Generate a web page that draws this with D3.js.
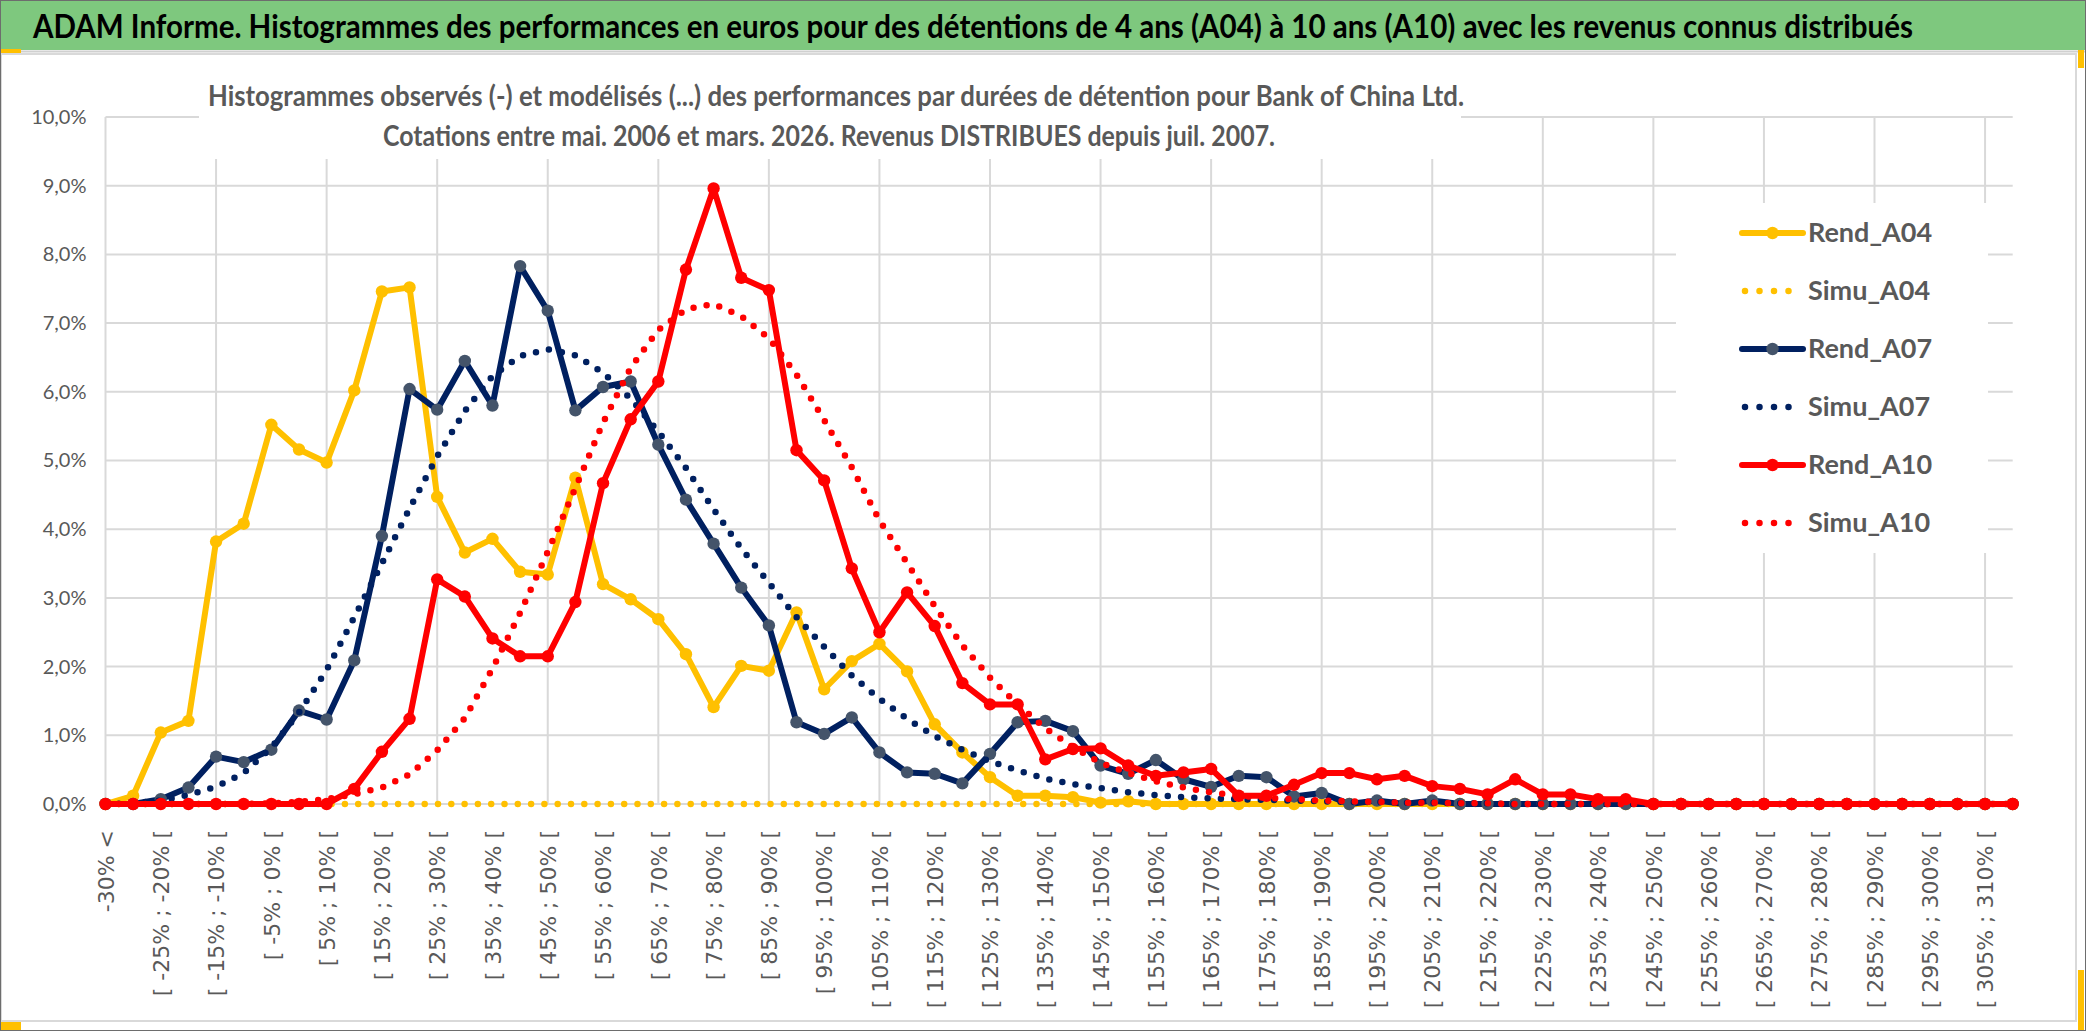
<!DOCTYPE html>
<html>
<head>
<meta charset="utf-8">
<script src="https://cdn.jsdelivr.net/npm/d3@7"></script>
<style>
  body { margin: 0; background: #fff; }
  svg { display: block; }
</style>
</head>
<body>
<div id="chart"></div>
<script>
// categories (classes de performance), values in % of observations
var categories = ["-30% <",
  "[ -30% ; -25% [","[ -25% ; -20% [","[ -20% ; -15% [","[ -15% ; -10% [","[ -10% ; -5% [","[ -5% ; 0% [",
  "[ 0% ; 5% [","[ 5% ; 10% [","[ 10% ; 15% [","[ 15% ; 20% [","[ 20% ; 25% [","[ 25% ; 30% [",
  "[ 30% ; 35% [","[ 35% ; 40% [","[ 40% ; 45% [","[ 45% ; 50% [","[ 50% ; 55% [","[ 55% ; 60% [",
  "[ 60% ; 65% [","[ 65% ; 70% [","[ 70% ; 75% [","[ 75% ; 80% [","[ 80% ; 85% [","[ 85% ; 90% [",
  "[ 90% ; 95% [","[ 95% ; 100% [","[ 100% ; 105% [","[ 105% ; 110% [","[ 110% ; 115% [","[ 115% ; 120% [",
  "[ 120% ; 125% [","[ 125% ; 130% [","[ 130% ; 135% [","[ 135% ; 140% [","[ 140% ; 145% [","[ 145% ; 150% [",
  "[ 150% ; 155% [","[ 155% ; 160% [","[ 160% ; 165% [","[ 165% ; 170% [","[ 170% ; 175% [","[ 175% ; 180% [",
  "[ 180% ; 185% [","[ 185% ; 190% [","[ 190% ; 195% [","[ 195% ; 200% [","[ 200% ; 205% [","[ 205% ; 210% [",
  "[ 210% ; 215% [","[ 215% ; 220% [","[ 220% ; 225% [","[ 225% ; 230% [","[ 230% ; 235% [","[ 235% ; 240% [",
  "[ 240% ; 245% [","[ 245% ; 250% [","[ 250% ; 255% [","[ 255% ; 260% [","[ 260% ; 265% [","[ 265% ; 270% [",
  "[ 270% ; 275% [","[ 275% ; 280% [","[ 280% ; 285% [","[ 285% ; 290% [","[ 290% ; 295% [","[ 295% ; 300% [",
  "[ 300% ; 305% [","[ 305% ; 310% [","310% >"];

var rendA04 = [0, 0.12, 1.04, 1.21, 3.82, 4.08, 5.52, 5.16, 4.97, 6.02,
  7.46, 7.52, 4.47, 3.66, 3.86, 3.38, 3.34, 4.75, 3.2, 2.98,
  2.69, 2.18, 1.41, 2.01, 1.94, 2.79, 1.67, 2.08, 2.33, 1.93,
  1.16, 0.75, 0.39, 0.12, 0.12, 0.10, 0.02, 0.04, 0, 0,
  0, 0, 0, 0, 0, 0, 0, 0, 0, 0,
  0, 0, 0, 0, 0, 0, 0, 0, 0, 0,
  0, 0, 0, 0, 0, 0, 0, 0, 0, 0];

var simuA04 = [0, 0, 0, 0, 0, 0, 0, 0, 0, 0,
  0, 0, 0, 0, 0, 0, 0, 0, 0, 0,
  0, 0, 0, 0, 0, 0, 0, 0, 0, 0,
  0, 0, 0, 0, 0, 0, 0, 0, 0, 0,
  0, 0, 0, 0, 0, 0, 0, 0, 0, 0,
  0, 0, 0, 0, 0, 0, 0, 0, 0, 0,
  0, 0, 0, 0, 0, 0, 0, 0, 0, 0];

var rendA07 = [0, 0, 0.07, 0.24, 0.69, 0.61, 0.79, 1.36, 1.23, 2.09,
  3.9, 6.04, 5.74, 6.45, 5.8, 7.83, 7.18, 5.73, 6.07, 6.15,
  5.23, 4.43, 3.79, 3.15, 2.6, 1.19, 1.02, 1.26, 0.75, 0.46,
  0.44, 0.3, 0.73, 1.19, 1.21, 1.06, 0.56, 0.44, 0.64, 0.36,
  0.25, 0.41, 0.39, 0.11, 0.16, 0, 0.05, 0, 0.05, 0,
  0, 0, 0, 0, 0, 0, 0, 0, 0, 0,
  0, 0, 0, 0, 0, 0, 0, 0, 0, 0];

var simuA07 = [0, 0.01, 0.05, 0.13, 0.25, 0.45, 0.82, 1.33, 1.95, 2.72,
  3.5, 4.3, 5.06, 5.72, 6.23, 6.52, 6.62, 6.53, 6.28, 5.9,
  5.42, 4.89, 4.29, 3.72, 3.22, 2.72, 2.29, 1.87, 1.53, 1.24,
  0.99, 0.79, 0.62, 0.49, 0.37, 0.29, 0.23, 0.17, 0.13, 0.1,
  0.08, 0.07, 0.06, 0.05, 0.04, 0.03, 0.03, 0.02, 0.02, 0.01,
  0.01, 0, 0, 0, 0, 0, 0, 0, 0, 0,
  0, 0, 0, 0, 0, 0, 0, 0, 0, 0];

var rendA10 = [0, 0, 0, 0, 0, 0, 0, 0, 0, 0.22,
  0.76, 1.24, 3.27, 3.02, 2.41, 2.15, 2.15, 2.94, 4.67, 5.6,
  6.15, 7.78, 8.96, 7.66, 7.48, 5.15, 4.71, 3.43, 2.5, 3.08,
  2.59, 1.76, 1.45, 1.45, 0.65, 0.8, 0.81, 0.56, 0.41, 0.46,
  0.51, 0.12, 0.12, 0.28, 0.45, 0.45, 0.36, 0.41, 0.26, 0.22,
  0.14, 0.36, 0.14, 0.14, 0.07, 0.07, 0, 0, 0, 0,
  0, 0, 0, 0, 0, 0, 0, 0, 0, 0];

var simuA10 = [0, 0, 0, 0, 0, 0, 0.01, 0.03, 0.07, 0.14,
  0.24, 0.43, 0.78, 1.25, 1.97, 2.78, 3.67, 4.6, 5.55, 6.35,
  6.9, 7.2, 7.28, 7.1, 6.78, 6.25, 5.59, 4.9, 4.13, 3.51,
  2.88, 2.31, 1.84, 1.45, 1.1, 0.83, 0.6, 0.45, 0.33, 0.24,
  0.17, 0.12, 0.09, 0.07, 0.05, 0.04, 0.03, 0.02, 0.02, 0.01,
  0.01, 0, 0, 0, 0, 0, 0, 0, 0, 0,
  0, 0, 0, 0, 0, 0, 0, 0, 0, 0];

var seriesNames = ["Rend_A04", "Simu_A04", "Rend_A07", "Simu_A07", "Rend_A10", "Simu_A10"];
var yTicks = [0, 1, 2, 3, 4, 5, 6, 7, 8, 9, 10];

var titleText = "ADAM Informe. Histogrammes des performances en euros pour des détentions de 4 ans (A04) à 10 ans (A10) avec les revenus connus distribués";
var subTitle1 = "Histogrammes observés (-) et modélisés (...) des performances par durées de détention pour Bank of China Ltd.";
var subTitle2 = "Cotations entre mai. 2006 et mars. 2026. Revenus DISTRIBUES depuis juil. 2007.";

function drawChart(targetID) {
    var width = 2086, height = 1031;
    var plot = {left: 105.5, right: 2012.7, top: 117, bottom: 804};
    var labelFont = "Lato, 'Open Sans', sans-serif";

    var series = [
        {name: seriesNames[0], values: rendA04, color: "#FFC000", marker: "#FFC000", dotted: false},
        {name: seriesNames[1], values: simuA04, color: "#FFC000", dotted: true},
        {name: seriesNames[2], values: rendA07, color: "#002060", marker: "#44546A", dotted: false},
        {name: seriesNames[3], values: simuA07, color: "#002060", dotted: true},
        {name: seriesNames[4], values: rendA10, color: "#FF0000", marker: "#FF0000", dotted: false},
        {name: seriesNames[5], values: simuA10, color: "#FF0000", dotted: true}
    ];

    var x = d3.scalePoint().domain(categories).range([plot.left, plot.right]);
    var y = d3.scaleLinear().domain([0, 10]).range([plot.bottom, plot.top]);

    var fr = d3.formatLocale({decimal: ",", thousands: " ", grouping: [3], currency: ["", " €"]});
    var fmt = fr.format(".1f");

    var svg = d3.select(targetID).append("svg")
        .attr("width", width)
        .attr("height", height);

    svg.append("rect").attr("x", 0).attr("y", 0).attr("width", width).attr("height", height).attr("fill", "#fff");

    // header band
    svg.append("rect")
        .attr("x", 0).attr("y", 0).attr("width", width).attr("height", 50)
        .attr("fill", "#7ec87e");
    svg.append("line").attr("x1", 0).attr("x2", width).attr("y1", 51.5).attr("y2", 51.5)
        .attr("stroke", "#d0d0d0").attr("stroke-width", 2);
    svg.append("text")
        .attr("x", 33).attr("y", 38)
        .attr("textLength", 1880).attr("lengthAdjust", "spacingAndGlyphs")
        .style("font-family", labelFont).style("font-weight", "bold").style("font-size", "32px")
        .attr("fill", "#000")
        .text(titleText);

    // chart area border
    svg.append("rect")
        .attr("x", 1).attr("y", 54).attr("width", 2075).attr("height", 967)
        .attr("fill", "none").attr("stroke", "#d9d9d9").attr("stroke-width", 2);

    // gridlines
    svg.append("g").selectAll("line")
        .data(yTicks)
      .enter().append("line")
        .attr("x1", plot.left).attr("x2", plot.right)
        .attr("y1", function(d) { return y(d); })
        .attr("y2", function(d) { return y(d); })
        .attr("stroke", "#d9d9d9").attr("stroke-width", 2);

    svg.append("g").selectAll("line")
        .data(categories.filter(function(d, i) { return i % 4 === 0; }))
      .enter().append("line")
        .attr("x1", function(d) { return x(d); })
        .attr("x2", function(d) { return x(d); })
        .attr("y1", plot.top).attr("y2", plot.bottom)
        .attr("stroke", "#d9d9d9").attr("stroke-width", 2);

    // white box behind the chart title
    svg.append("rect")
        .attr("x", 199).attr("y", 62).attr("width", 1262).attr("height", 97)
        .attr("fill", "#fff");

    svg.append("text")
        .attr("x", 836).attr("y", 106)
        .attr("text-anchor", "middle")
        .attr("textLength", 1256).attr("lengthAdjust", "spacingAndGlyphs")
        .style("font-family", labelFont).style("font-weight", "bold").style("font-size", "28px")
        .attr("fill", "#595959")
        .text(subTitle1);
    svg.append("text")
        .attr("x", 829).attr("y", 146)
        .attr("text-anchor", "middle")
        .attr("textLength", 892).attr("lengthAdjust", "spacingAndGlyphs")
        .style("font-family", labelFont).style("font-weight", "bold").style("font-size", "28px")
        .attr("fill", "#595959")
        .text(subTitle2);

    // y axis
    var yAxis = d3.axisLeft(y)
        .tickValues(yTicks)
        .tickSize(0)
        .tickPadding(19)
        .tickFormat(function(d) { return fmt(d) + "%"; });

    var gy = svg.append("g")
        .attr("transform", "translate(" + plot.left + ",0)")
        .call(yAxis);
    gy.select(".domain").remove();
    gy.selectAll("text")
        .style("font-family", labelFont).style("font-size", "20px")
        .attr("fill", "#595959");

    // x axis, every other class labelled
    var xAxis = d3.axisBottom(x)
        .tickValues(categories.filter(function(d, i) { return i % 2 === 0; }))
        .tickSize(0);

    var gx = svg.append("g")
        .attr("transform", "translate(0," + plot.bottom + ")")
        .call(xAxis);
    gx.select(".domain").remove();
    gx.selectAll("text")
        .attr("transform", "rotate(-90)")
        .attr("x", -26)
        .attr("y", 0)
        .attr("dy", "0.35em")
        .style("text-anchor", "end")
        .style("font-family", "'DejaVu Sans', Verdana, sans-serif")
        .style("font-size", "22px")
        .attr("fill", "#595959");

    // series
    var line = d3.line()
        .x(function(d, i) { return x(categories[i]); })
        .y(function(d) { return y(d); });

    series.forEach(function(s) {
        var g = svg.append("g").attr("class", "series");
        if (s.dotted) {
            g.append("path")
                .attr("d", line(s.values))
                .attr("fill", "none")
                .attr("stroke", s.color)
                .attr("stroke-width", 6.5)
                .attr("stroke-linecap", "round")
                .attr("stroke-dasharray", "0 13.3");
        } else {
            g.append("path")
                .attr("d", line(s.values))
                .attr("fill", "none")
                .attr("stroke", s.color)
                .attr("stroke-width", 6)
                .attr("stroke-linejoin", "round");
            g.selectAll("circle")
                .data(s.values)
              .enter().append("circle")
                .attr("cx", function(d, i) { return x(categories[i]); })
                .attr("cy", function(d) { return y(d); })
                .attr("r", 6.2)
                .attr("fill", s.marker);
        }
    });

    // legend
    var legend = svg.append("g");
    legend.append("rect")
        .attr("x", 1676).attr("y", 203).attr("width", 312).attr("height", 350)
        .attr("fill", "#fff");

    var item = legend.selectAll(".item")
        .data(series)
      .enter().append("g")
        .attr("class", "item")
        .attr("transform", function(d, i) { return "translate(1742," + (233 + i * 58) + ")"; });

    item.each(function(s) {
        var g = d3.select(this);
        if (s.dotted) {
            g.append("line")
                .attr("x1", 3).attr("x2", 58).attr("y1", 0).attr("y2", 0)
                .attr("stroke", s.color).attr("stroke-width", 6.5)
                .attr("stroke-linecap", "round").attr("stroke-dasharray", "0 14.5");
        } else {
            g.append("line")
                .attr("x1", 0).attr("x2", 61).attr("y1", 0).attr("y2", 0)
                .attr("stroke", s.color).attr("stroke-width", 6).attr("stroke-linecap", "round");
            g.append("circle").attr("cx", 30.5).attr("cy", 0).attr("r", 6.2).attr("fill", s.marker);
        }
        g.append("text")
            .attr("x", 66).attr("y", 0).attr("dy", "0.35em")
            .style("font-family", labelFont).style("font-weight", "bold").style("font-size", "27px")
            .attr("fill", "#595959")
            .text(s.name);
    });

    // small selection marks and outer frame
    svg.append("rect").attr("x", 0).attr("y", 1022).attr("width", 21).attr("height", 9).attr("fill", "#FFC000");
    svg.append("rect").attr("x", 0).attr("y", 49).attr("width", 21).attr("height", 4).attr("fill", "#FFC000");
    svg.append("rect").attr("x", 2078).attr("y", 50).attr("width", 6).attr("height", 18).attr("fill", "#FFC000");
    svg.append("rect").attr("x", 2078).attr("y", 970).attr("width", 6).attr("height", 61).attr("fill", "#FFC000");
    svg.append("rect")
        .attr("x", 0.5).attr("y", 0.5).attr("width", width - 1).attr("height", height - 1)
        .attr("fill", "none").attr("stroke", "#6d6d6d").attr("stroke-width", 1);
}

drawChart("#chart");
</script>
</body>
</html>
